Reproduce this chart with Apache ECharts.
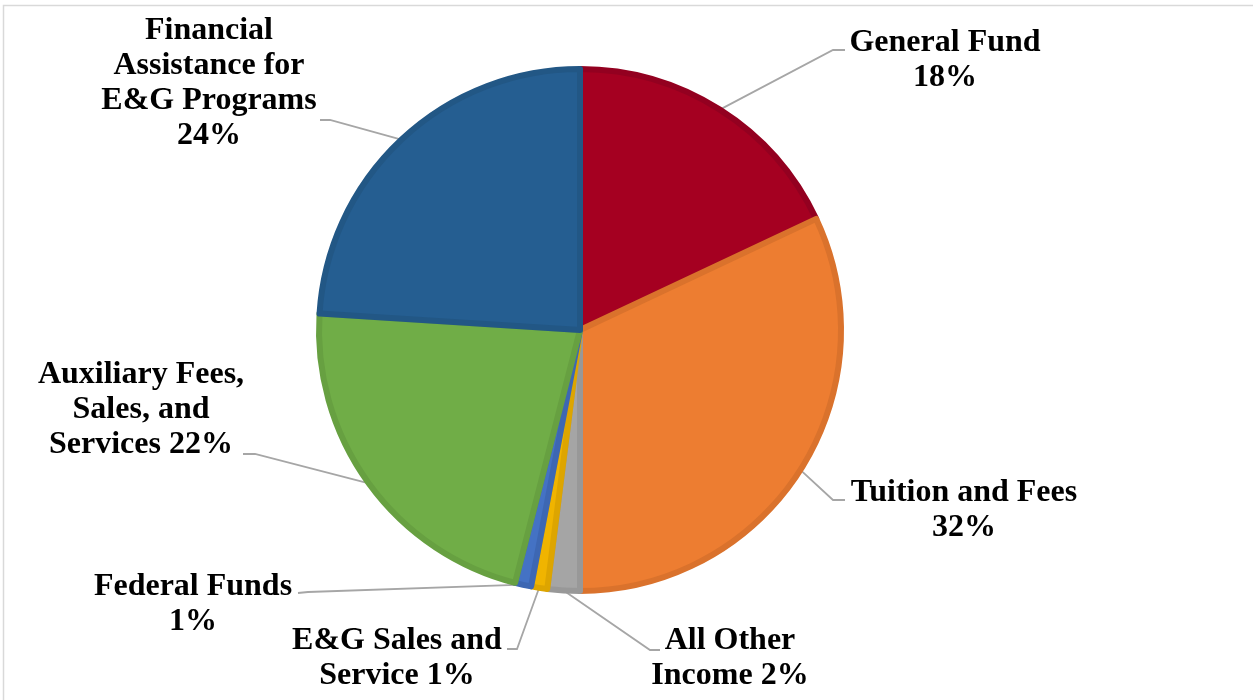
<!DOCTYPE html>
<html>
<head>
<meta charset="utf-8">
<style>html,body{margin:0;padding:0;background:#fff;}#c{width:1253px;height:700px;}</style>
<script src="https://cdn.jsdelivr.net/npm/echarts@6/dist/echarts.min.js"></script>
</head>
<body>
<div id="c"></div>
<script>
// Data
var categories = ['General Fund', 'Tuition and Fees', 'All Other Income', 'E&G Sales and Service', 'Federal Funds', 'Auxiliary Fees, Sales, and Services', 'Financial Assistance for E&G Programs'];
var values = [18, 32, 2, 1, 1, 22, 24];
var labelTexts = ['General Fund\n18%', 'Tuition and Fees\n32%', 'All Other\nIncome 2%', 'E&G Sales and\nService 1%', 'Federal Funds\n1%', 'Auxiliary Fees,\nSales, and\nServices 22%', 'Financial\nAssistance for\nE&G Programs\n24%'];

// Styles
var colors = ['#A50021', '#ED7D31', '#A5A5A5', '#F0B400', '#4472C4', '#70AD47', '#255E91'];
var borders = ['#930020', '#DA722C', '#989898', '#DDA500', '#3D67B3', '#67A041', '#225785'];
// label layout: [centerX, centerY, elbowX, elbowY, endX, endY]
var labelPos = [
  [945, 60, 833, 50, 845, 50],
  [964, 510, 833, 500, 845, 500],
  [730, 658, 650, 650, 660, 650],
  [397, 658, 517, 649, 507, 649],
  [193, 604, 308, 592, 298, 593],
  [141, 410, 255, 454, 243, 454],
  [209, 83, 330, 120, 320, 120]
];

var chart = echarts.init(document.getElementById('c'));
var data = categories.map(function (n, i) {
  return {
    name: n, value: values[i],
    itemStyle: { color: colors[i], borderColor: borders[i], borderWidth: 6 },
    label: { formatter: labelTexts[i] }
  };
});
chart.setOption({
  animation: false,
  graphic: [{
    type: 'rect', silent: true,
    shape: { x: 3.5, y: 5.5, width: 1262, height: 710 },
    style: { fill: 'none', stroke: '#d9d9d9', lineWidth: 1.5 }
  }],
  series: [{
    type: 'pie',
    center: [580, 330],
    radius: [0, 261],
    startAngle: 90,
    clockwise: true,
    avoidLabelOverlap: false,
    data: data,
    label: {
      show: true,
      position: 'outside',
      fontFamily: 'Liberation Serif',
      fontWeight: 'bold',
      fontSize: 32,
      lineHeight: 35,
      color: '#000',
      align: 'center'
    },
    labelLine: { show: true, lineStyle: { color: '#A6A6A6', width: 1.8 }, length: 10, length2: 10 },
    labelLayout: function (params) {
      var p = labelPos[params.dataIndex];
      var pts = params.labelLinePoints;
      var start = pts ? pts[0] : [p[2], p[3]];
      return {
        x: p[0], y: p[1], align: 'center', verticalAlign: 'middle',
        labelLinePoints: [start, [p[2], p[3]], [p[4], p[5]]]
      };
    }
  }]
});
</script>
</body>
</html>
